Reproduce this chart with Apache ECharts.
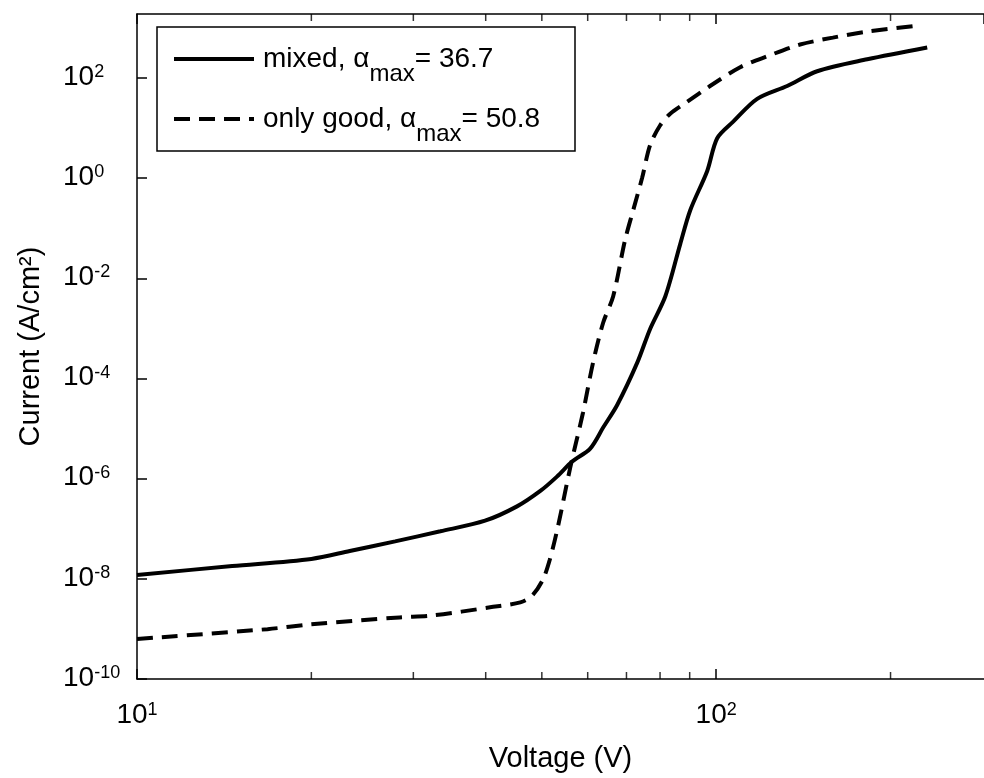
<!DOCTYPE html>
<html>
<head>
<meta charset="utf-8">
<script src="https://cdn.jsdelivr.net/npm/echarts@6/dist/echarts.min.js"></script>
<style>html,body{margin:0;padding:0;background:#fff;}#c{width:984px;height:778px;}</style>
</head>
<body>
<div id="c"></div>
<script>
// ---- data ----
const voltageMixed = [10, 14.6, 20, 23.3, 27.9, 33.4, 39.9, 45.3, 49.7, 53.1, 56.4, 60.6, 63.8, 67.5, 73.1, 76.9, 81.7, 86.7, 90.2, 96.5, 100.4, 107, 117.7, 132.6, 149.4, 182.3, 231.4];
const currentMixed = [1.2e-8, 1.8e-8, 2.5e-8, 3.6e-8, 5.6e-8, 8.9e-8, 1.45e-7, 2.8e-7, 5.7e-7, 1.1e-6, 2.2e-6, 4.0e-6, 1.05e-5, 3.0e-5, 2.1e-4, 9.8e-4, 4.4e-3, 0.049, 0.23, 1.4, 6.3, 13.5, 38.5, 69.5, 137, 237, 408];
const voltageGood = [10, 16.8, 20, 28.4, 32.4, 40.7, 45.9, 48.1, 50.2, 51.6, 53.3, 56.0, 58.9, 61.3, 63.8, 66.4, 69.6, 71.9, 74.5, 76.9, 80.0, 83.3, 89.1, 97.6, 110, 122.4, 139.6, 159, 182, 222.5];
const currentGood = [6.3e-10, 9.9e-10, 1.24e-9, 1.7e-9, 1.86e-9, 2.7e-9, 3.4e-9, 4.6e-9, 9.6e-9, 2.4e-8, 1.1e-7, 1.7e-6, 2.1e-5, 2.1e-4, 1.3e-3, 4.4e-3, 0.058, 0.23, 1.02, 4.6, 11.3, 19.5, 33.6, 69.5, 165, 272, 468, 643, 846, 1109];
const seriesNames = ['mixed', 'only good'];
const alphaMax = ['36.7', '50.8'];
const xMin = 10, xMax = 290;
const yMin = 1e-10, yMax = 1905;
const minorTickVoltages = [20, 30, 40, 50, 60, 70, 80, 90, 200];

const FONT = 'Liberation Sans, Arial, sans-serif';
const pairs = (xs, ys) => xs.map((x, i) => [x, ys[i]]);
const expLabel = v => '{b|10}{s|' + Math.round(Math.log10(v)) + '}';
const tickRich = {
  b: { fontSize: 28, fontFamily: FONT, color: '#000', lineHeight: 28, padding: [8, 0, 0, 0], verticalAlign: 'bottom' },
  s: { fontSize: 18, fontFamily: FONT, color: '#000', lineHeight: 18, verticalAlign: 'top' }
};

const chart = echarts.init(document.getElementById('c'), null, { renderer: 'canvas' });
chart.setOption({
  animation: false,
  backgroundColor: '#fff',
  grid: { left: 137, top: 14, right: 0, bottom: 92 },
  legend: {
    orient: 'vertical',
    left: 172, top: 32,
    itemWidth: 80, itemHeight: 14,
    itemGap: 6,
    padding: 0,
    data: seriesNames,
    itemStyle: { color: 'rgba(0,0,0,0)', borderWidth: 0, opacity: 0 },
    lineStyle: { width: 4, color: '#000' },
    formatter: name => {
      const i = seriesNames.indexOf(name);
      return '{f|' + name + ', \u03b1}{u|max}{t|= ' + alphaMax[i] + '}';
    },
    textStyle: {
      rich: {
        f: { fontSize: 28, fontFamily: FONT, color: '#000', lineHeight: 28, verticalAlign: 'middle', padding: [0, 0, 0, 4] },
        t: { fontSize: 28, fontFamily: FONT, color: '#000', lineHeight: 28, verticalAlign: 'middle' },
        u: { fontSize: 24, fontFamily: FONT, color: '#000', lineHeight: 24, verticalAlign: 'middle', padding: [30, 0, 0, 0] }
      }
    }
  },
  graphic: [{
    type: 'rect', z: 100,
    shape: { x: 157, y: 27, width: 418, height: 124 },
    style: { fill: 'none', stroke: '#000', lineWidth: 1.5 }
  }],
  xAxis: [{
    type: 'log', logBase: 10, min: xMin, max: xMax,
    name: 'Voltage (V)', nameLocation: 'middle', nameGap: 65,
    nameTextStyle: { fontSize: 29, fontFamily: FONT, color: '#000' },
    axisLine: { lineStyle: { color: '#000', width: 1.5 } },
    axisTick: { inside: true, length: 10, lineStyle: { color: '#000', width: 1.5 } },
    axisLabel: { formatter: expLabel, rich: tickRich, margin: 22, showMaxLabel: false },
    splitLine: { show: false }, minorTick: { show: false }
  }, {
    type: 'log', logBase: 10, min: xMin, max: xMax, position: 'top',
    axisLine: { lineStyle: { color: '#000', width: 1.5 } },
    axisTick: { inside: true, length: 10, lineStyle: { color: '#000', width: 1.5 } },
    axisLabel: { show: false }, splitLine: { show: false }
  }],
  yAxis: [{
    type: 'log', logBase: 10, min: yMin, max: yMax, interval: 2,
    name: 'Current (A/cm\u00b2)', nameLocation: 'middle', nameGap: 92, nameRotate: 90,
    nameTextStyle: { fontSize: 29, fontFamily: FONT, color: '#000' },
    axisLine: { lineStyle: { color: '#000', width: 1.5 } },
    axisTick: { inside: true, length: 10, lineStyle: { color: '#000', width: 1.5 } },
    axisLabel: { formatter: expLabel, rich: tickRich, margin: 74, align: 'left', padding: [0, 0, 2, 0], showMaxLabel: false },
    splitLine: { show: false }
  }],
  series: [{
    name: seriesNames[0], type: 'line', data: pairs(voltageMixed, currentMixed),
    showSymbol: false, symbol: 'none', smooth: 0.3, z: 5,
    lineStyle: { color: '#000', width: 4, type: 'solid' }, itemStyle: { color: '#000' }
  }, {
    name: seriesNames[1], type: 'line', data: pairs(voltageGood, currentGood),
    showSymbol: false, symbol: 'none', smooth: 0.3, z: 5,
    lineStyle: { color: '#000', width: 4, type: [16, 9] }, itemStyle: { color: '#000' }
  }, {
    name: 'minorBottom', type: 'scatter', silent: true,
    data: minorTickVoltages.map(v => [v, yMin]),
    symbol: 'rect', symbolSize: [1.5, 7], symbolOffset: [0, -3.5],
    itemStyle: { color: '#000' }, z: 6
  }, {
    name: 'minorTop', type: 'scatter', silent: true,
    data: minorTickVoltages.map(v => [v, yMax]),
    symbol: 'rect', symbolSize: [1.5, 7], symbolOffset: [0, 3.5],
    itemStyle: { color: '#000' }, z: 6
  }]
});
</script>
</body>
</html>
